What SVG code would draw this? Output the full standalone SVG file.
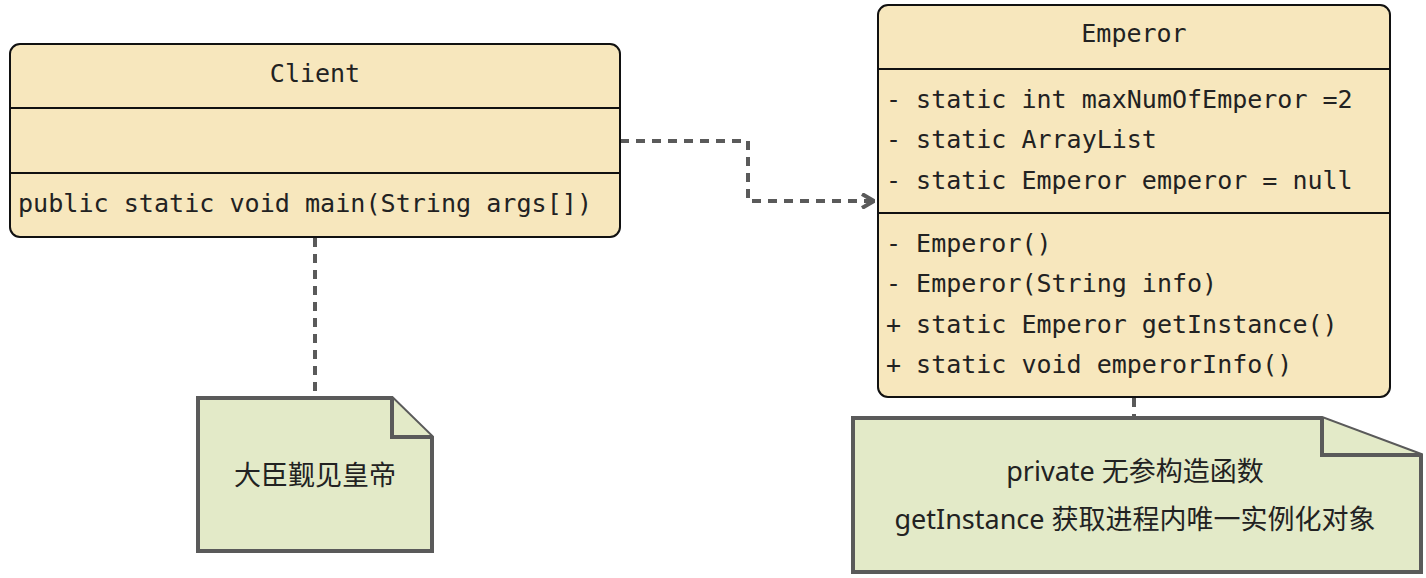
<svg xmlns="http://www.w3.org/2000/svg" width="1426" height="578" viewBox="0 0 1426 578">
<style>
.box{fill:#f7e7bd;stroke:#111;stroke-width:2}
.sep{stroke:#111;stroke-width:2}
.mono{font-family:"DejaVu Sans Mono","Liberation Mono",monospace;font-size:25px;fill:#222}
.note{fill:#e3eac8;stroke:#5a5a5a;stroke-width:4;stroke-linejoin:miter}
.ntext{font-family:"Noto Sans","Noto Sans CJK SC",sans-serif;font-size:27px;fill:#222}
.dash{fill:none;stroke:#5a5a5a;stroke-width:4;stroke-dasharray:9 7}
</style>
<defs>
<marker id="open" viewBox="0 0 14 16" refX="13" refY="8" markerWidth="14" markerHeight="16" markerUnits="userSpaceOnUse" orient="auto">
<path d="M1,1 L13,8 L1,15" fill="none" stroke="#5a5a5a" stroke-width="4"/>
</marker>
</defs>
<g id="connectors">
<path class="dash" d="M620,141 H748 V201 H874" marker-end="url(#open)"/>
<path class="dash" d="M315,238 V398"/>
<path class="dash" d="M1134,398 V418"/>
</g>
<g id="client">
<rect class="box" x="10" y="44" width="610" height="193" rx="10"/>
<line class="sep" x1="10" y1="108" x2="620" y2="108"/>
<line class="sep" x1="10" y1="173" x2="620" y2="173"/>
<text class="mono" x="315" y="82" text-anchor="middle">Client</text>
<text class="mono" x="18" y="212" textLength="574" lengthAdjust="spacingAndGlyphs">public static void main(String args[])</text>
</g>
<g id="emperor">
<rect class="box" x="878" y="5" width="512" height="392" rx="10"/>
<line class="sep" x1="878" y1="69" x2="1390" y2="69"/>
<line class="sep" x1="878" y1="213" x2="1390" y2="213"/>
<text class="mono" x="1134" y="42" text-anchor="middle">Emperor</text>
<text class="mono" x="886" y="108">- static int maxNumOfEmperor =2</text>
<text class="mono" x="886" y="148">- static ArrayList</text>
<text class="mono" x="886" y="189">- static Emperor emperor = null</text>
<text class="mono" x="886" y="252">- Emperor()</text>
<text class="mono" x="886" y="292">- Emperor(String info)</text>
<text class="mono" x="886" y="333">+ static Emperor getInstance()</text>
<text class="mono" x="886" y="373">+ static void emperorInfo()</text>
</g>
<g id="note-client">
<path class="note" d="M198,398 H392 L432,437 V551 H198 Z"/>
<path class="note" d="M392,398 V437 H432"/>
<text class="ntext" x="315" y="485" text-anchor="middle">大臣觐见皇帝</text>
</g>
<g id="note-emperor">
<path class="note" d="M853,418 H1322 L1421,455 V572 H853 Z"/>
<path class="note" d="M1322,418 V455 H1421"/>
<text class="ntext" x="1135" y="481" text-anchor="middle">private 无参构造函数</text>
<text class="ntext" x="1135" y="529" text-anchor="middle">getInstance 获取进程内唯一实例化对象</text>
</g>
</svg>
